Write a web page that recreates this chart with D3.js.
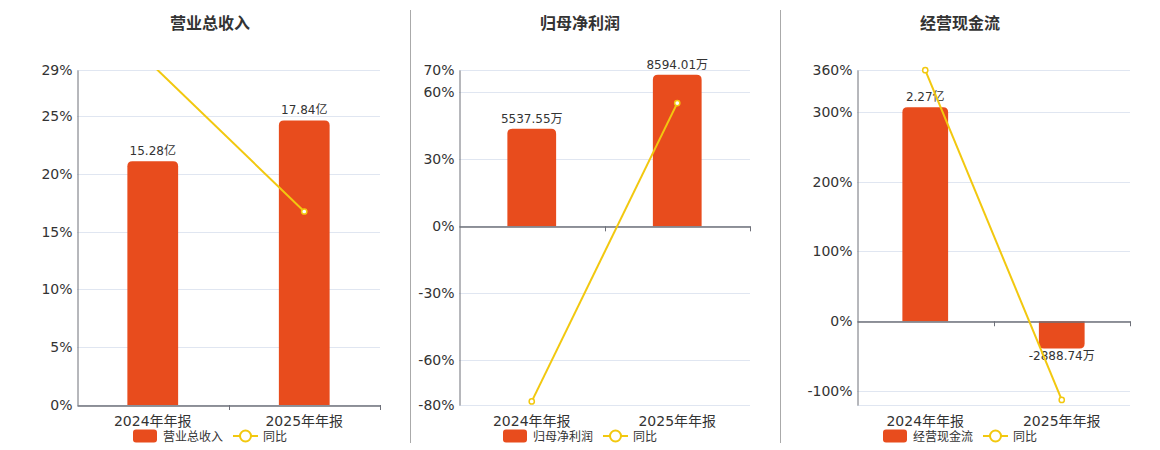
<!DOCTYPE html>
<html><head><meta charset="utf-8">
<script src="https://cdn.jsdelivr.net/npm/d3@7/dist/d3.min.js"></script>
<style>
html,body{margin:0;padding:0;background:#fff;}
svg{display:block;font-family:"DejaVu Sans","Noto Sans CJK SC",sans-serif;}
</style></head>
<body>
<svg id="chart" width="1160" height="450"></svg>
<script>
// ---- data ----
const categories = ["2024年年报", "2025年年报"];
const titles = ["营业总收入", "归母净利润", "经营现金流"];
const legendNames = ["营业总收入", "归母净利润", "经营现金流"];
const lineName = "同比";
// bar values in 万元
const revenueValues = [152800, 178400];
const profitValues = [5537.55, 8594.01];
const cashValues = [22700, -2888.74];
// year-on-year %
const revenueYoy = [29.4, 16.75];
const profitYoy = [-78.4, 55.19];
const cashYoy = [359.8, -112.7];
// percent axis ticks and domains
const revenueTicks = [0, 5, 10, 15, 20, 25, 29];
const profitTicks = [-80, -60, -30, 0, 30, 60, 70];
const cashTicks = [-100, 0, 100, 200, 300, 360];
const revenuePctDomain = [0, 29];
const profitPctDomain = [-80, 70];
const cashPctDomain = [-120, 360];
// hidden bar axis maxima (万元)
const barAxisMax = [210000, 8870, 26650];

// ---- layout ----
const panels = [
  {left: 77, right: 380, titleX: 210, bars: revenueValues, yoy: revenueYoy, ticks: revenueTicks, dom: revenuePctDomain, legX: 133},
  {left: 459, right: 750, titleX: 580, bars: profitValues, yoy: profitYoy, ticks: profitTicks, dom: profitPctDomain, legX: 503},
  {left: 857, right: 1130, titleX: 960, bars: cashValues, yoy: cashYoy, ticks: cashTicks, dom: cashPctDomain, legX: 883}
];
const plotTop = 70, plotBottom = 405;
const barColor = "#E84C1D", lineColor = "#F2C80F", gridColor = "#E0E6F1", axisColor = "#6E7079", textColor = "#333";

const svg = d3.select("#chart");
const defs = svg.append("defs");

function fmt(v) {
  return Math.abs(v) >= 10000 ? (v / 10000).toFixed(2) + "亿" : v.toFixed(2) + "万";
}
function barPath(x, w, y0, y1, r) {
  if (y1 <= y0) {
    r = Math.min(r, (y0 - y1), w / 2);
    return `M${x},${y0}V${y1 + r}Q${x},${y1} ${x + r},${y1}H${x + w - r}Q${x + w},${y1} ${x + w},${y1 + r}V${y0}Z`;
  } else {
    r = Math.min(r, (y1 - y0), w / 2);
    return `M${x},${y0}V${y1 - r}Q${x},${y1} ${x + r},${y1}H${x + w - r}Q${x + w},${y1} ${x + w},${y1 - r}V${y0}Z`;
  }
}

// dividers
[410.5, 780.5].forEach(x => {
  svg.append("line").attr("x1", x).attr("x2", x).attr("y1", 10).attr("y2", 443)
    .attr("stroke", "#AAAAAA").attr("stroke-width", 1);
});

panels.forEach((p, i) => {
  const g = svg.append("g");
  const x = d3.scaleBand().domain(categories).range([p.left, p.right]);
  const yPct = d3.scaleLinear().domain(p.dom).range([plotBottom, plotTop]);
  const barMin = barAxisMax[i] * p.dom[0] / p.dom[1];
  const yBar = d3.scaleLinear().domain([barMin, barAxisMax[i]]).range([plotBottom, plotTop]);
  const zeroY = yPct(0);

  g.append("text").attr("x", p.titleX).attr("y", 29).attr("text-anchor", "middle")
    .attr("font-size", 16).attr("font-weight", "bold").attr("fill", textColor).text(titles[i]);

  const gridVals = p.ticks.concat(p.dom[0] !== p.ticks[0] ? [p.dom[0]] : []);
  g.selectAll(".grid").data(gridVals).enter().append("line")
    .attr("x1", p.left).attr("x2", p.right)
    .attr("y1", d => Math.round(yPct(d)) + 0.5).attr("y2", d => Math.round(yPct(d)) + 0.5)
    .attr("stroke", gridColor).attr("stroke-width", 1);

  const yAxis = d3.axisLeft(yPct).tickValues(p.ticks).tickFormat(d => d + "%").tickSize(0).tickPadding(5);
  const ya = g.append("g").attr("transform", `translate(${p.left + 0.5},0)`).call(yAxis);
  ya.select(".domain").attr("stroke", axisColor);
  ya.selectAll("text").attr("font-size", 14).attr("fill", textColor);
  ya.attr("font-family", null);

  const bw = x.bandwidth() * 0.335;
  g.selectAll(".bar").data(p.bars).enter().append("path")
    .attr("d", (d, j) => barPath(x(categories[j]) + x.bandwidth() / 2 - bw / 2, bw, zeroY, yBar(d), 5))
    .attr("fill", barColor);

  g.selectAll(".blab").data(p.bars).enter().append("text")
    .attr("x", (d, j) => x(categories[j]) + x.bandwidth() / 2)
    .attr("y", d => d >= 0 ? yBar(d) - 6 : yBar(d) + 12)
    .attr("text-anchor", "middle").attr("font-size", 12).attr("fill", textColor)
    .text(d => fmt(d));

  const xAxis = d3.axisBottom(x).tickSize(0).tickFormat("");
  const xa = g.append("g").attr("transform", `translate(0,${Math.round(zeroY) + 0.5})`).call(xAxis);
  xa.select(".domain").attr("stroke", axisColor).attr("stroke-width", 1.5);
  const bounds = categories.map(c => x(c) + x.bandwidth());
  g.selectAll(".xt").data(bounds).enter().append("line")
    .attr("x1", d => Math.round(d) + 0.5).attr("x2", d => Math.round(d) + 0.5)
    .attr("y1", zeroY).attr("y2", zeroY + 5).attr("stroke", axisColor);

  g.selectAll(".cat").data(categories).enter().append("text")
    .attr("x", d => x(d) + x.bandwidth() / 2).attr("y", 425.5)
    .attr("text-anchor", "middle").attr("font-size", 14).attr("fill", textColor).text(d => d);

  const clipId = "clip" + i;
  defs.append("clipPath").attr("id", clipId).append("rect")
    .attr("x", p.left - 5).attr("y", plotTop).attr("width", p.right - p.left + 10).attr("height", plotBottom - plotTop);
  const line = d3.line().x((d, j) => x(categories[j]) + x.bandwidth() / 2).y(d => yPct(d));
  g.append("path").datum(p.yoy).attr("d", line).attr("fill", "none")
    .attr("stroke", lineColor).attr("stroke-width", 2).attr("clip-path", `url(#${clipId})`);
  g.selectAll(".pt").data(p.yoy.map((v, j) => ({v, j})).filter(d => d.v >= p.dom[0] && d.v <= p.dom[1]))
    .enter().append("circle")
    .attr("cx", d => x(categories[d.j]) + x.bandwidth() / 2).attr("cy", d => yPct(d.v))
    .attr("r", 2.6).attr("fill", "#fff").attr("stroke", lineColor).attr("stroke-width", 1.5);

  const lg = g.append("g").attr("transform", `translate(${p.legX},436)`);
  lg.append("rect").attr("x", 0).attr("y", -6.5).attr("width", 24).attr("height", 13).attr("rx", 3).attr("fill", barColor);
  lg.append("text").attr("x", 30).attr("y", 4.5).attr("font-size", 12).attr("fill", textColor).text(legendNames[i]);
  const lx = 100;
  lg.append("line").attr("x1", lx).attr("x2", lx + 25).attr("y1", 0).attr("y2", 0).attr("stroke", lineColor).attr("stroke-width", 2);
  lg.append("circle").attr("cx", lx + 12.5).attr("cy", 0).attr("r", 5.5).attr("fill", "#fff").attr("stroke", lineColor).attr("stroke-width", 2);
  lg.append("text").attr("x", lx + 30).attr("y", 4.5).attr("font-size", 12).attr("fill", textColor).text(lineName);
});
</script>
</body></html>
